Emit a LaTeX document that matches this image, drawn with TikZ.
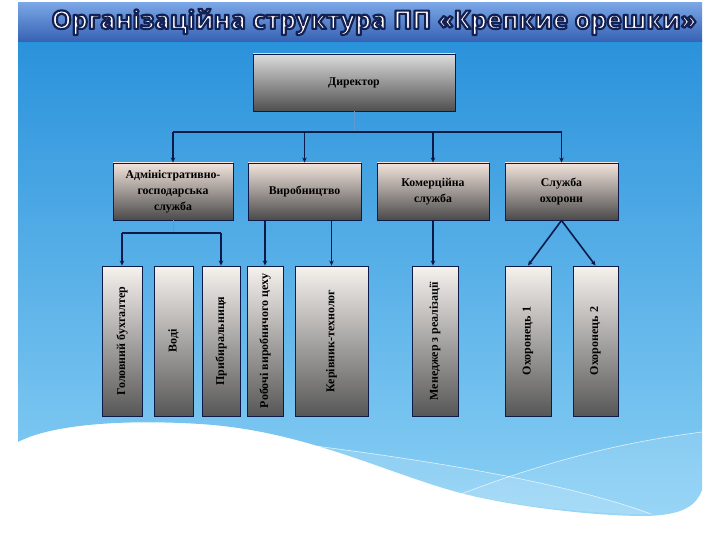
\documentclass[tikz,border=0pt]{standalone}
\usepackage{fontspec}
\setmainfont{Liberation Serif}
\newfontfamily\titlefont{Open Sans}
\usetikzlibrary{arrows.meta}
\definecolor{navy}{HTML}{0C1A4A}
\definecolor{faint}{HTML}{5B9BD0}
\definecolor{bartop}{HTML}{7AA6E6}
\definecolor{barbot}{HTML}{3561B3}
\definecolor{bgtop}{HTML}{2A92DB}
\definecolor{bgbot}{HTML}{8AD0F5}
\definecolor{dirtop}{HTML}{DCDCDC}
\definecolor{dirbot}{HTML}{4F4F4F}
\definecolor{midtop}{HTML}{F2E4DC}
\definecolor{midbot}{HTML}{4A4A4A}
\definecolor{lowtop}{HTML}{F6F2EE}
\definecolor{lowbot}{HTML}{575757}
\newcommand{\outlinedtext}[1]{\special{pdf:literal direct 0.08 0.13 0.32 RG 0.85 w 1 j 2 Tr}#1\special{pdf:literal direct 0 Tr}}
\tikzset{
  boxbase/.style={draw=navy, line width=0.9pt, inner sep=0pt, align=center,
    font=\bfseries\fontsize{11.8}{16}\selectfont, text=black},
  dirbox/.style={boxbase, top color=dirtop, bottom color=dirbot},
  midbox/.style={boxbase, top color=midtop, bottom color=midbot, minimum height=57pt},
  lowbox/.style={boxbase, top color=lowtop, bottom color=lowbot, minimum height=150pt,
    font=\bfseries\fontsize{12}{14}\selectfont},
  conn/.style={draw=navy, line width=1.6pt},
  arr/.style={conn, -{Stealth[length=5pt,width=4.5pt]}},
  stub/.style={draw=faint, line width=0.7pt}
}
\begin{document}
\begin{tikzpicture}[x=1pt,y=-1pt]
\useasboundingbox (0,0) rectangle (720,540);
% background panel with wave bottom
\shade[top color=bgtop, bottom color=bgbot]
  (18,40) -- (702,40) -- (702,490)
  .. controls (695,508) and (680,515) .. (645,516)
  .. controls (590,516) and (500,505) .. (450,490)
  .. controls (380,470) and (300,430) .. (200,424)
  .. controls (120,419) and (50,425) .. (18,442) -- cycle;
% decorative light streaks
\fill[white, opacity=0.15] (240,437) .. controls (400,455) and (560,480) .. (651,514)
  .. controls (600,515) and (500,505) .. (450,490) .. controls (380,470) and (300,440) .. (240,437) -- cycle;
\fill[white, opacity=0.12] (448,499) .. controls (560,455) and (640,440) .. (702,432) -- (702,490)
  .. controls (695,508) and (680,515) .. (645,516) .. controls (590,516) and (500,505) .. (448,499) -- cycle;
\draw[white, opacity=0.75, line width=0.6pt] (240,437) .. controls (400,455) and (560,480) .. (651,514);
\draw[white, opacity=0.75, line width=0.6pt] (448,499) .. controls (560,455) and (640,440) .. (702,432);
% title bar
\shade[top color=bartop, bottom color=barbot] (18,3) rectangle (702,42);
\node[text=white, inner sep=0pt] (title) at (374,22)
  {\resizebox{645pt}{!}{\titlefont\bfseries\outlinedtext{Організаційна структура ПП «Крепкие орешки»}}};
% boxes
\node[dirbox, minimum width=202pt, minimum height=57pt] (dir) at (354,82.5) {Директор};
\node[midbox, minimum width=120pt] (adm) at (173,191.5) {Адміністративно-\\господарська\\служба};
\node[midbox, minimum width=113pt] (vyr) at (304.5,191.5) {Виробництво};
\node[midbox, minimum width=112pt] (kom) at (433,191.5) {Комерційна\\служба};
\node[midbox, minimum width=113pt] (ohr) at (561.5,191.5) {Служба\\охорони};
\node[lowbox, minimum width=40pt] (buh) at (122,341) {\rotatebox{90}{Головний бухгалтер}};
\node[lowbox, minimum width=39pt] (vod) at (173.5,341) {\rotatebox{90}{Воді}};
\node[lowbox, minimum width=38pt] (prb) at (221,341) {\rotatebox{90}{Прибиральниця}};
\node[lowbox, minimum width=36pt] (rob) at (265,341) {\rotatebox{90}{Робочі виробничого цеху}};
\node[lowbox, minimum width=73pt] (ker) at (331.5,341) {\rotatebox{90}{Керівник-технолог}};
\node[lowbox, minimum width=46pt] (men) at (435,341) {\rotatebox{90}{Менеджер з реалізації}};
\node[lowbox, minimum width=46pt] (oh1) at (528,341) {\rotatebox{90}{Охоронець 1}};
\node[lowbox, minimum width=45pt] (oh2) at (595.5,341) {\rotatebox{90}{Охоронець 2}};
% connectors: director level
\coordinate (bus) at (0,132);
\draw[stub] (dir.south) -- (dir.south |- bus);
\draw[conn] (adm.north |- bus) -- (ohr.north |- bus);
\draw[arr] (adm.north |- bus) -- (adm.north);
\draw[arr] (vyr.north |- bus) -- (vyr.north);
\draw[arr] (kom.north |- bus) -- (kom.north);
\draw[arr] (ohr.north |- bus) -- (ohr.north);
% admin branch
\coordinate (abus) at (0,233);
\draw[stub] (adm.south) -- (adm.south |- abus);
\draw[conn] (buh.north |- abus) -- (prb.north |- abus);
\draw[arr] (buh.north |- abus) -- (buh.north);
\draw[arr] (prb.north |- abus) -- (prb.north);
% production branch
\draw[arr] (vyr.south -| rob.north) -- (rob.north);
\draw[arr] (vyr.south -| ker.north) -- (ker.north);
% commerce
\draw[arr] (kom.south) -- (kom.south |- men.north);
% security
\draw[arr] (ohr.south) -- (oh1.north);
\draw[arr] (ohr.south) -- (oh2.north);
\end{tikzpicture}
\end{document}
